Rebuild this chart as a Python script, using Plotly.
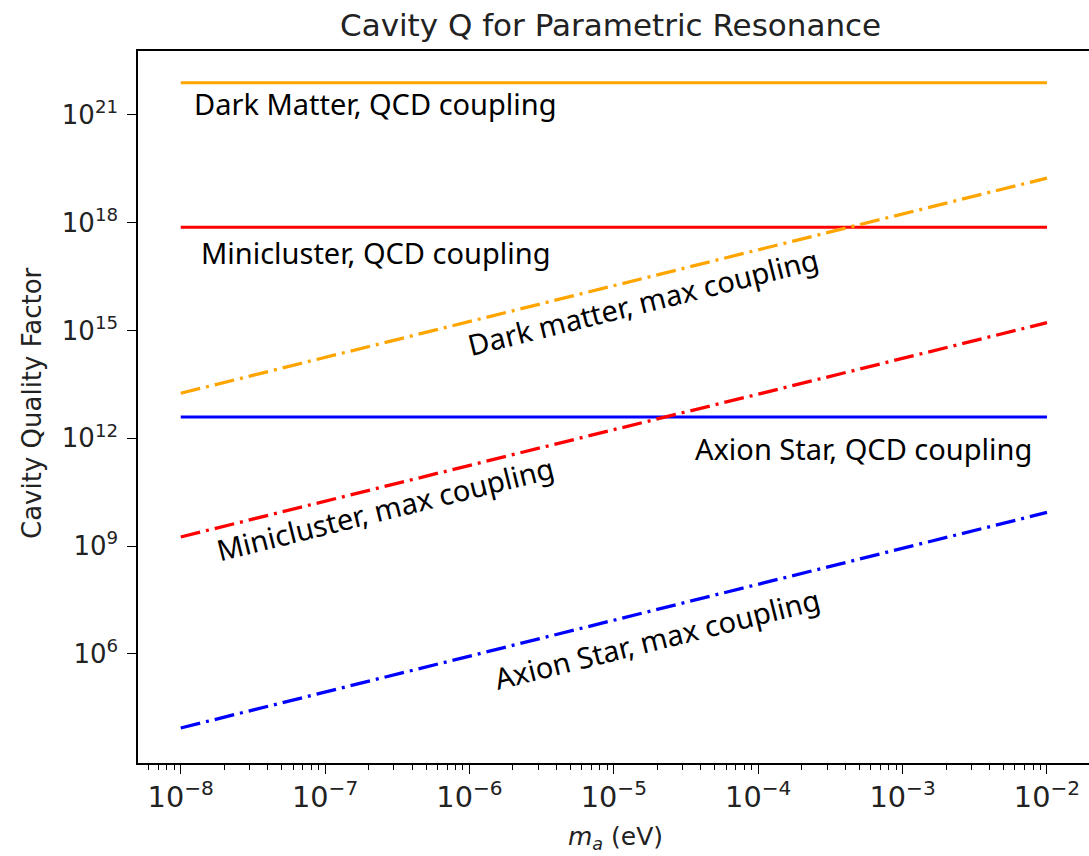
import plotly.graph_objects as go

# ---- data ----
mass_eV = [1e-8, 1e-7, 1e-6, 1e-5, 1e-4, 1e-3, 1e-2]

q_dm_qcd = [7.9e21, 7.9e21, 7.9e21, 7.9e21, 7.9e21, 7.9e21, 7.9e21]
q_mc_qcd = [7.5e17, 7.5e17, 7.5e17, 7.5e17, 7.5e17, 7.5e17, 7.5e17]
q_as_qcd = [3.9e12, 3.9e12, 3.9e12, 3.9e12, 3.9e12, 3.9e12, 3.9e12]

q_dm_max = [1.8e13, 1.8e14, 1.8e15, 1.8e16, 1.8e17, 1.8e18, 1.75e19]
q_mc_max = [1.8e9, 1.8e10, 1.8e11, 1.75e12, 1.7e13, 1.7e14, 1.66e15]
q_as_max = [8.7e3, 8.7e4, 8.7e5, 8.7e6, 8.7e7, 8.7e8, 8.7e9]

y_tickvals = [1e6, 1e9, 1e12, 1e15, 1e18, 1e21]
y_ticktext = ["10<sup>6</sup>", "10<sup>9</sup>", "10<sup>12</sup>",
              "10<sup>15</sup>", "10<sup>18</sup>", "10<sup>21</sup>"]

series = [
    ("Dark Matter, QCD coupling", q_dm_qcd, "orange", "solid"),
    ("Minicluster, QCD coupling", q_mc_qcd, "#FF0000", "solid"),
    ("Axion Star, QCD coupling", q_as_qcd, "#0000FF", "solid"),
    ("Dark matter, max coupling", q_dm_max, "orange", "dashdot"),
    ("Minicluster, max coupling", q_mc_max, "#FF0000", "dashdot"),
    ("Axion Star, max coupling", q_as_max, "#0000FF", "dashdot"),
]

# label positions (log10 of data coordinates) and rotation
label_pos = [
    ("Dark Matter, QCD coupling", -6.654, 21.33, 0),
    ("Minicluster, QCD coupling", -6.647, 17.16, 0),
    ("Axion Star, QCD coupling", -3.274, 11.73, 0),
    ("Dark matter, max coupling", -4.798, 15.80, -14),
    ("Minicluster, max coupling", -6.585, 10.06, -14),
    ("Axion Star, max coupling", -4.701, 6.44, -14),
]

title_text = "Cavity Q for Parametric Resonance"
xlabel = "<i>m</i><sub><i>a</i></sub> (eV)"
ylabel = "Cavity Quality Factor"

fig = go.Figure()
for name, vals, color, style in series:
    dash = "solid" if style == "solid" else "20px,6px,3px,6px"
    fig.add_trace(go.Scatter(
        x=mass_eV, y=vals, mode="lines", name=name,
        line=dict(color=color, width=3 if style == "solid" else 3.3, dash=dash),
        showlegend=False,
    ))

for text, lx, ly, ang in label_pos:
    fig.add_annotation(
        x=lx, y=ly, xref="x", yref="y", text=text, showarrow=False,
        textangle=ang, xanchor="center", yanchor="middle",
        font=dict(family="Noto Sans", size=29, color="black"),
    )

L, R, T, B = 138, 0, 51, 93
W, H = 1089, 856
pw, ph = W - L - R, H - T - B

fig.add_annotation(
    x=(610 - L) / pw, y=(H - B - 25) / ph, xref="paper", yref="paper",
    text=title_text, showarrow=False, xanchor="center", yanchor="middle",
    font=dict(family="DejaVu Sans", size=31, color="#222222"),
)
fig.add_annotation(
    x=(615 - L) / pw, y=(H - B - 838) / ph, xref="paper", yref="paper",
    text=xlabel, showarrow=False, xanchor="center", yanchor="middle",
    font=dict(family="DejaVu Sans", size=25, color="#222222"),
)
fig.add_annotation(
    x=(32 - L) / pw, y=(H - B - 403) / ph, xref="paper", yref="paper",
    text=ylabel, showarrow=False, xanchor="center", yanchor="middle",
    textangle=-90,
    font=dict(family="DejaVu Sans", size=26, color="#222222"),
)

fig.update_layout(
    width=W, height=H,
    margin=dict(l=L, r=R, t=T, b=B, pad=0),
    paper_bgcolor="white", plot_bgcolor="white",
    font=dict(family="DejaVu Sans", size=24, color="#222222"),
)
fig.update_xaxes(
    type="log", range=[-8.296, -1.709],
    dtick=1, exponentformat="power",
    showgrid=False, zeroline=False,
    showline=True, linecolor="black", linewidth=1.5, mirror=True,
    ticks="outside", ticklen=9, tickwidth=1.3, tickcolor="black",
    minor=dict(ticks="outside", ticklen=5, tickwidth=1, tickcolor="black",
               dtick="D1", showgrid=False),
    tickfont=dict(family="DejaVu Sans", size=23, color="#222222"),
)
fig.update_yaxes(
    type="log", range=[2.965, 22.78],
    tickmode="array", tickvals=y_tickvals, ticktext=y_ticktext,
    showgrid=False, zeroline=False,
    showline=True, linecolor="black", linewidth=1.5,
    ticks="outside", ticklen=9, tickwidth=1.3, tickcolor="black",
    ticklabelstandoff=4,
    tickfont=dict(family="DejaVu Sans", size=26, color="#222222"),
)

fig.write_html("out.html")
